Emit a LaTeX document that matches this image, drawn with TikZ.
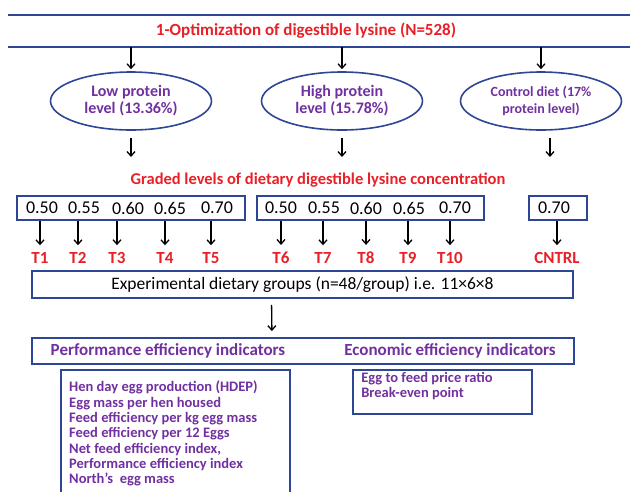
\documentclass[tikz,border=0pt]{standalone}
\usepackage{fontspec}
\setmainfont{Carlito}
\usetikzlibrary{shapes, arrows, arrows.meta, positioning}
\definecolor{boxblue}{RGB}{45,70,150}
\definecolor{lysred}{RGB}{232,32,40}
\definecolor{lyspurple}{RGB}{112,48,160}

\begin{document}
\begin{tikzpicture}[x=1pt, y=-1pt,
  blueline/.style={draw=boxblue, line width=2pt},
  oval/.style={ellipse, draw=boxblue, line width=1.6pt, minimum width=161pt, minimum height=58pt, inner sep=0pt, align=center, text=lyspurple, font=\bfseries\fontsize{16}{17}\selectfont},
  numbox/.style={draw=boxblue, line width=1.8pt, minimum height=24pt, inner sep=0pt},
  numtext/.style={font=\fontsize{18}{20}\selectfont, inner sep=0pt},
  tlabel/.style={text=lysred, font=\bfseries\fontsize{17}{19}\selectfont, inner sep=0pt},
  redtext/.style={text=lysred, font=\bfseries\fontsize{17}{19}\selectfont},
  headtext/.style={text=lyspurple, font=\bfseries\fontsize{17}{19}\selectfont},
  listtext/.style={text=lyspurple, font=\bfseries\fontsize{14.5}{15.3}\selectfont, align=left, inner sep=0pt},
  arr/.style={-{Straight Barb[length=4.5pt, width=8pt]}, line width=1.3pt}]
\useasboundingbox (0,0) rectangle (630,491);
\coordinate (L1) at (8,15);
\coordinate (R1) at (630,15);
\coordinate (L2) at (8,47);
\coordinate (R2) at (630,47);
\draw[blueline] (L1) -- (R1);
\draw[blueline] (L2) -- (R2);
\node[redtext] (title) at (306,31) {1-Optimization of digestible lysine (N=528)};

% protein levels
\node[oval] (low) at (131,101) {Low protein\\level (13.36\%)};
\node[oval] (high) at (342,101) {High protein\\level (15.78\%)};
\node[oval, font=\bfseries\fontsize{14}{17}\selectfont] (ctrl) at (541,101) {Control diet (17\%\\protein level)};
\draw[arr, shorten >=2pt] (low |- L2) -- (low.north);
\draw[arr, shorten >=2pt] (high |- L2) -- (high.north);
\draw[arr, shorten >=2pt] (ctrl |- L2) -- (ctrl.north);

\node[redtext, font=\bfseries\fontsize{16.5}{18}\selectfont] (graded) at (318,180) {Graded levels of dietary digestible lysine concentration};
\coordinate (gl) at (0,157);
\draw[arr, shorten <=7pt] (low.south) -- (low.south |- gl);
\draw[arr, shorten <=7pt] (high.south) -- (high.south |- gl);
\draw[arr, shorten <=7pt] ([xshift=9pt]ctrl.south) -- ([xshift=9pt]ctrl.south |- gl);

% lysine boxes
\node[numbox, minimum width=228pt] (box1) at (131,208) {};
\node[numbox, minimum width=227pt] (box2) at (370.5,208) {};
\node[numbox, minimum width=58pt] (box3) at (558,208) {};
\coordinate (rowb) at (0,221);
\foreach \val/\nx/\tx/\lab in {0.50/42/40/T1, 0.55/84/78/T2, 0.60/128/117/T3, 0.65/170/165/T4, 0.70/217/211/T5, 0.50/281/281/T6, 0.55/324/323/T7, 0.60/366/366/T8, 0.65/409/408/T9, 0.70/455/450/T10, 0.70/554/557/CNTRL}
{
  \node[numtext] (n\lab) at (\nx,208) {\val};
  \node[tlabel] (\lab) at (\tx,258) {\lab};
  \draw[arr, shorten >=7pt] (\lab |- rowb) -- (\lab.north);
}

\node[numbox, minimum width=541pt, minimum height=27pt, font=\fontsize{17.5}{19}\selectfont] (exp) at (302.5,284.5) {Experimental dietary groups (n=48/group) i.e. 11×6×8};

% indicators
\node[numbox, minimum width=542pt, minimum height=26pt] (head) at (303,351) {};
\node[headtext] (perfhead) at (168,351) {Performance efficiency indicators};
\node[headtext] (econhead) at (450,351) {Economic efficiency indicators};
\draw[arr, shorten <=6pt, shorten >=6pt] ([xshift=-31pt]exp.south) -- ([xshift=-31pt]head.north);

\coordinate (pb1) at (61,493);
\coordinate (pb2) at (290,370);
\coordinate (pb3) at (290,493);
\draw[numbox] (pb1) |- (pb2) -- (pb3);
\node[listtext, anchor=north west] (perf) at (69,381) {Hen day egg production (HDEP)\\Egg mass per hen housed\\Feed efficiency per kg egg mass\\Feed efficiency per 12 Eggs\\Net feed efficiency index,\\Performance efficiency index\\North’s~ egg mass};

\node[numbox, minimum width=179pt, minimum height=44pt] (econbox) at (442.5,392) {};
\node[listtext, anchor=north west] (econ) at ([xshift=9pt,yshift=-3pt]econbox.north west) {Egg to feed price ratio\\Break-even point};
\end{tikzpicture}
\end{document}
